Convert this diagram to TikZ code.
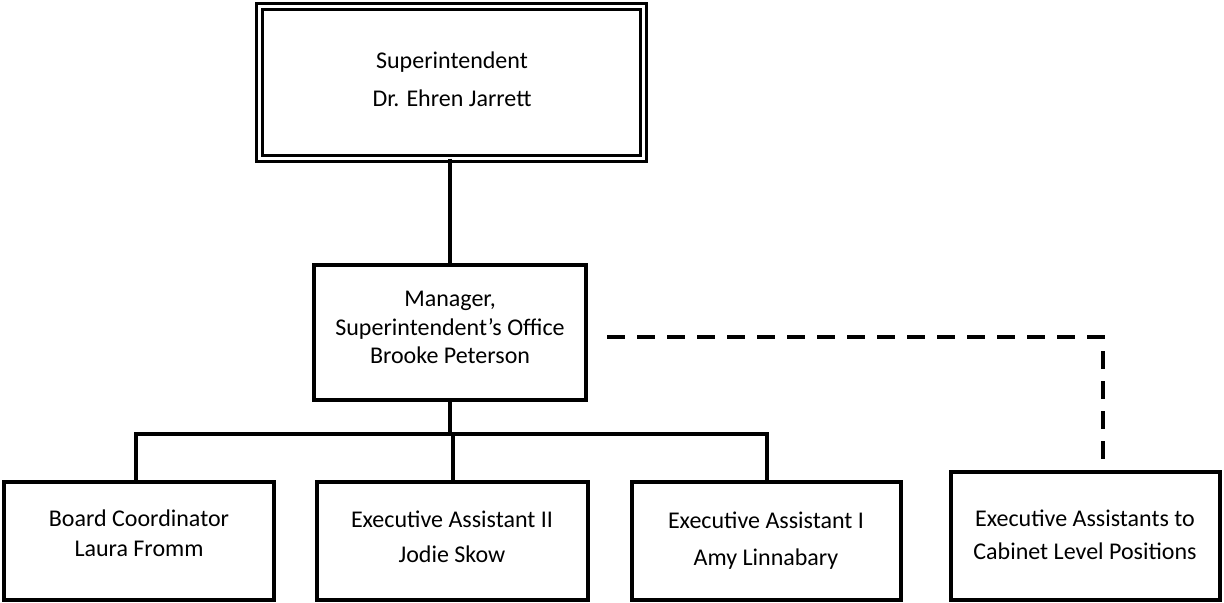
\documentclass[tikz,border=0pt]{standalone}
\usepackage{fontspec}
\setmainfont{Carlito}
\begin{document}
\begin{tikzpicture}[x=0.5pt,y=-0.5pt,
  box/.style={draw=black, line width=2pt, rectangle, inner sep=0pt, outer sep=0pt, fill=white},
  dblbox/.style={draw=black, line width=1.5pt, double=white, double distance=1.5pt, rectangle, inner sep=0pt, outer sep=0pt},
  lbl/.style={align=center, inner sep=0pt, font=\fontsize{12}{14.5}\selectfont},
  conn/.style={draw=black, line width=2pt},
  dashconn/.style={draw=black, line width=2pt, dash pattern=on 9pt off 6pt}]
\useasboundingbox (0,0) rectangle (1224,602);
\fill[white] (0,0) rectangle (1224,602);
% boxes
\node[dblbox, minimum width=192pt, minimum height=76pt] (top) at (451.5,82.5) {};
\node[box, minimum width=136pt, minimum height=67.5pt] (mgr) at (450,332.5) {};
\node[box, minimum width=135pt, minimum height=59pt] (b1) at (139,541) {};
\node[box, minimum width=135.5pt, minimum height=59pt] (b2) at (452.5,541) {};
\node[box, minimum width=134.5pt, minimum height=59pt] (b3) at (766.5,541) {};
\node[box, minimum width=134.5pt, minimum height=64pt] (b4) at (1085.5,536) {};
% texts
\node[lbl] (ttop) at (452,79) {Superintendent\\[4.5pt]Dr. Ehren Jarrett};
\node[lbl] (tmgr) at (450,327.5) {Manager,\\[-0.25pt]Superintendent’s Office\\[-0.25pt]Brooke Peterson};
\node[lbl] (tb1) at (139,533) {Board Coordinator\\[0.5pt]Laura Fromm};
\node[lbl] (tb2) at (452,537) {Executive Assistant II\\[3pt]Jodie Skow};
\node[lbl] (tb3) at (766,541) {Executive Assistant I\\[4pt]Amy Linnabary};
\node[lbl] (tb4) at (1085,535) {Executive Assistants to\\[2pt]Cabinet Level Positions};
% connectors
\coordinate (bus) at (450,434);
\draw[conn] (top.south -| mgr.north) -- (mgr.north);
\draw[conn] (mgr.south) -- (bus);
\draw[conn] (bus) -| ([xshift=-1.5pt]b1.north);
\draw[conn] (bus) -| (b2.north);
\draw[conn] (bus) -| (b3.north);
\coordinate (dstart) at (607,337);
\coordinate (dend) at (1103,467);
\draw[dashconn] (dstart) -| (dend);
\end{tikzpicture}
\end{document}
